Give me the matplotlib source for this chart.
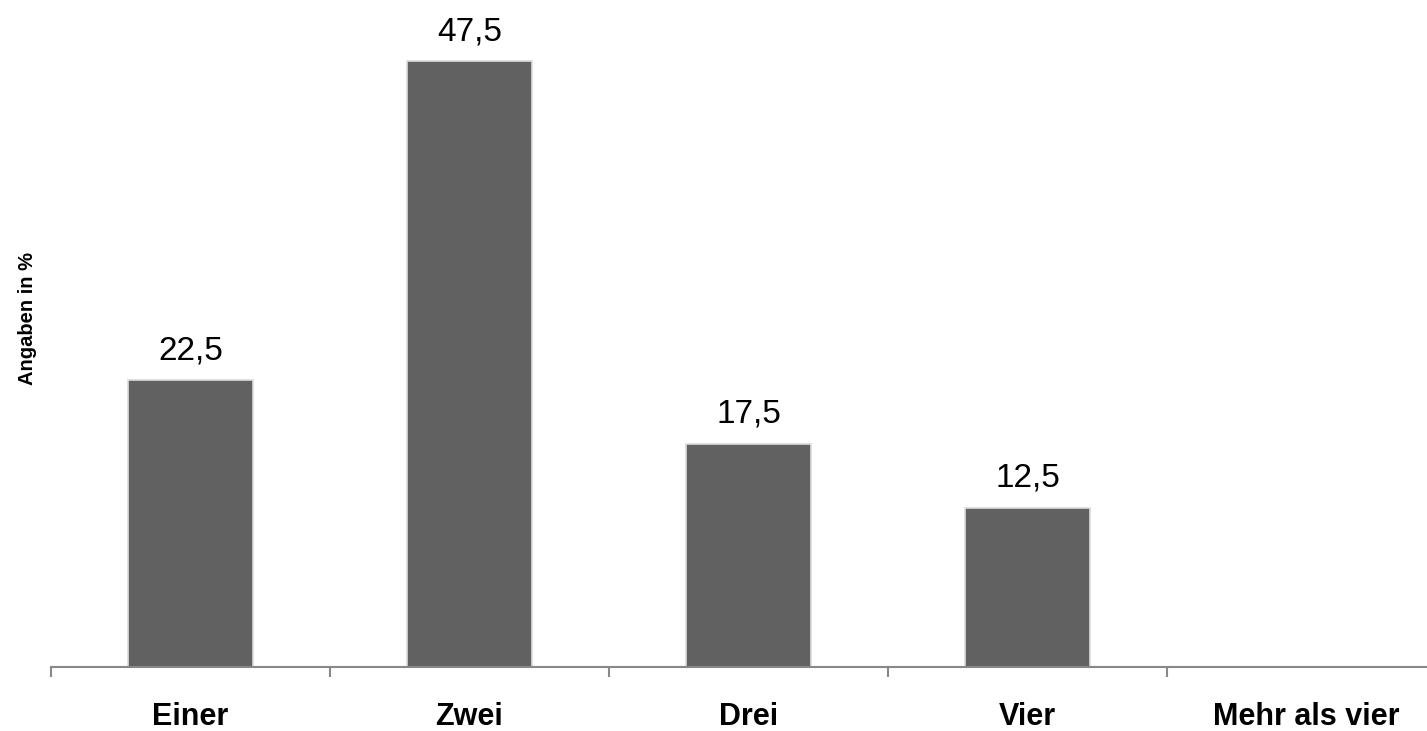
#bar chart of the number of answers, shares in percent

import matplotlib.pyplot as plt

plt.rcParams['font.family'] = ['Liberation Sans', 'DejaVu Sans']

categories = ['Einer', 'Zwei', 'Drei', 'Vier', 'Mehr als vier']
values = [22.5, 47.5, 17.5, 12.5, None]

fig = plt.figure(figsize=(14.27, 7.31), dpi=100)
ax = fig.add_axes([51/1427., 1 - 667/731., 1395/1427., 638/731.])

pos = [i for i, v in enumerate(values) if v is not None]
vals = [v for v in values if v is not None]
bars = ax.bar(pos, vals, width=0.45, color='#616161', edgecolor='#dcdcdc', linewidth=1.2)

for b, v in zip(bars, vals):
	ax.annotate(('%.1f' % v).replace('.', ','), (b.get_x() + b.get_width()/2., v),
		xytext=(0, 10), textcoords='offset points', ha='center', va='bottom', fontsize=24)

ax.set_xlim(-0.5, len(categories) - 0.5)
ax.set_ylim(0, 50)

for s in ['top', 'right', 'left']:
	ax.spines[s].set_visible(False)
ax.spines['bottom'].set_color('#888888')
ax.spines['bottom'].set_linewidth(1.5)

ax.set_yticks([])
ax.set_xticks(range(len(categories)))
ax.set_xticklabels(categories, fontsize=22, fontweight='bold')
ax.tick_params(axis='x', which='major', length=0, pad=25)
ax.set_xticks([i - 0.5 for i in range(len(categories) + 1)], minor=True)
ax.tick_params(axis='x', which='minor', length=7.5, width=1.5, color='#888888', direction='out')

ax.set_ylabel('Angaben in %', fontsize=14.5, fontweight='bold', labelpad=0)
ax.yaxis.set_label_coords(-0.010, 0.547)

fig.savefig('out.png', dpi=100)
